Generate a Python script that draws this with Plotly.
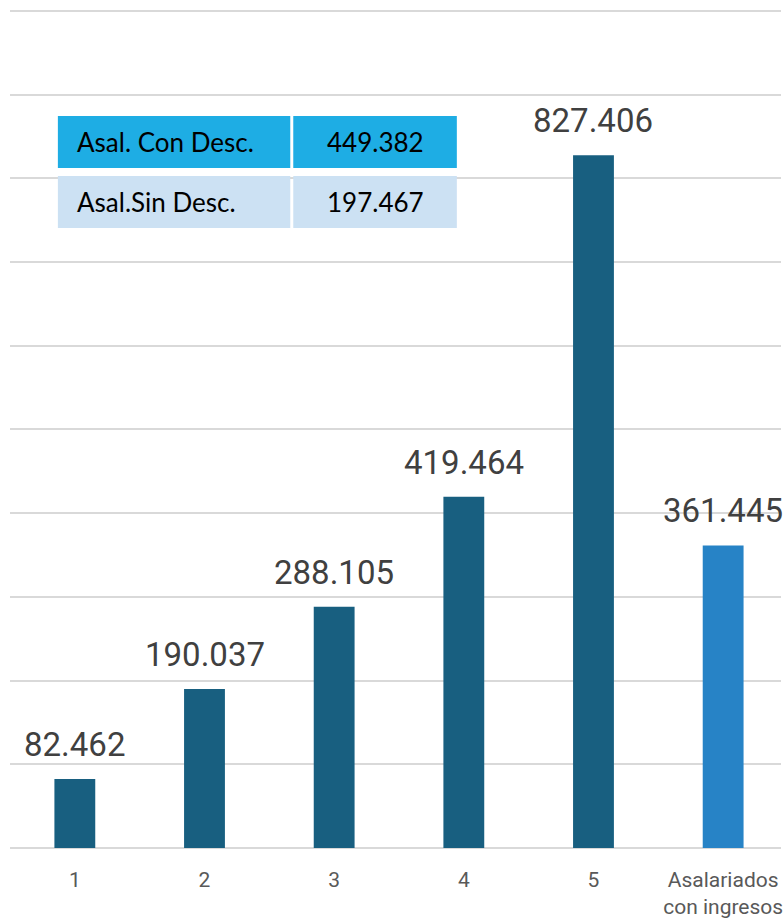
import plotly.graph_objects as go

# ---- data ----
categories = ["1", "2", "3", "4", "5", "Asalariados<br>con ingresos"]
values = [82462, 190037, 288105, 419464, 827406, 361445]
bar_colors = ["#185F80", "#185F80", "#185F80", "#185F80", "#185F80", "#2783C6"]
table_labels = ["Asal. Con Desc.", "Asal.Sin Desc."]
table_values = [449382, 197467]
table_row_colors = ["#1EADE4", "#CCE1F3"]

W, H = 783, 919
ML, MR, MT, MB = 10, 0, 9, 71
PW = W - ML - MR
PH = H - MT - MB


def px_x(px):
    return (px - ML) / PW


def px_y(py):
    return (H - MB - py) / PH


def fmt(v):
    return f"{v:,}".replace(",", ".")


x_idx = list(range(len(categories)))

fig = go.Figure()
fig.add_trace(go.Bar(
    x=x_idx,
    y=values,
    width=0.315,
    marker=dict(color=bar_colors, line=dict(width=0)),
    hoverinfo="skip",
))

annotations = []
for xi, v in zip(x_idx, values):
    annotations.append(dict(
        x=xi, y=v, xref="x", yref="y", text=fmt(v), showarrow=False,
        yanchor="bottom", yshift=13,
        font=dict(family="Roboto", size=33, color="#404040"),
    ))

shapes = []
row_tops = [116, 176]
row_h = 52
col1 = (58, 291)
col2 = (294, 458)
for i, (lab, val) in enumerate(zip(table_labels, table_values)):
    top = row_tops[i]
    bot = top + row_h
    for (c0, c1) in (col1, col2):
        shapes.append(dict(
            type="rect", xref="paper", yref="paper",
            x0=px_x(c0), x1=px_x(c1), y0=px_y(bot), y1=px_y(top),
            fillcolor=table_row_colors[i], line=dict(width=0), layer="above",
        ))
    cy = px_y((top + bot) / 2)
    annotations.append(dict(
        x=px_x(75), y=cy, xref="paper", yref="paper", text=lab,
        showarrow=False, xanchor="left", yanchor="middle",
        font=dict(family="Lato", size=26, color="#000000"),
    ))
    annotations.append(dict(
        x=px_x((col2[0] + col2[1]) / 2), y=cy, xref="paper", yref="paper",
        text=fmt(val), showarrow=False, xanchor="center", yanchor="middle",
        font=dict(family="Lato", size=26, color="#000000"),
    ))

fig.update_layout(
    width=W, height=H,
    margin=dict(l=ML, r=MR, t=MT, b=MB, pad=0),
    paper_bgcolor="white", plot_bgcolor="white",
    showlegend=False,
    separators=",.",
    annotations=annotations,
    shapes=shapes,
    xaxis=dict(
        tickmode="array", tickvals=x_idx, ticktext=categories,
        range=[-0.5, (PW / 130) - 0.5],
        showgrid=False, showline=False, zeroline=False, ticks="",
        ticklabelstandoff=17,
        ticklabeloverflow="allow",
        tickfont=dict(family="Roboto", size=21, color="#595959"),
    ),
    yaxis=dict(
        range=[0, 1002200], dtick=100000, tick0=0,
        showticklabels=False, showgrid=True,
        gridcolor="#D9D9D9", gridwidth=1.5,
        zeroline=True, zerolinecolor="#D9D9D9", zerolinewidth=2,
        showline=False, ticks="",
    ),
)

fig.write_html(
    "out.html",
    config={"displayModeBar": False},
    post_script="document.body.style.margin='0px';document.body.style.overflow='hidden';",
)
